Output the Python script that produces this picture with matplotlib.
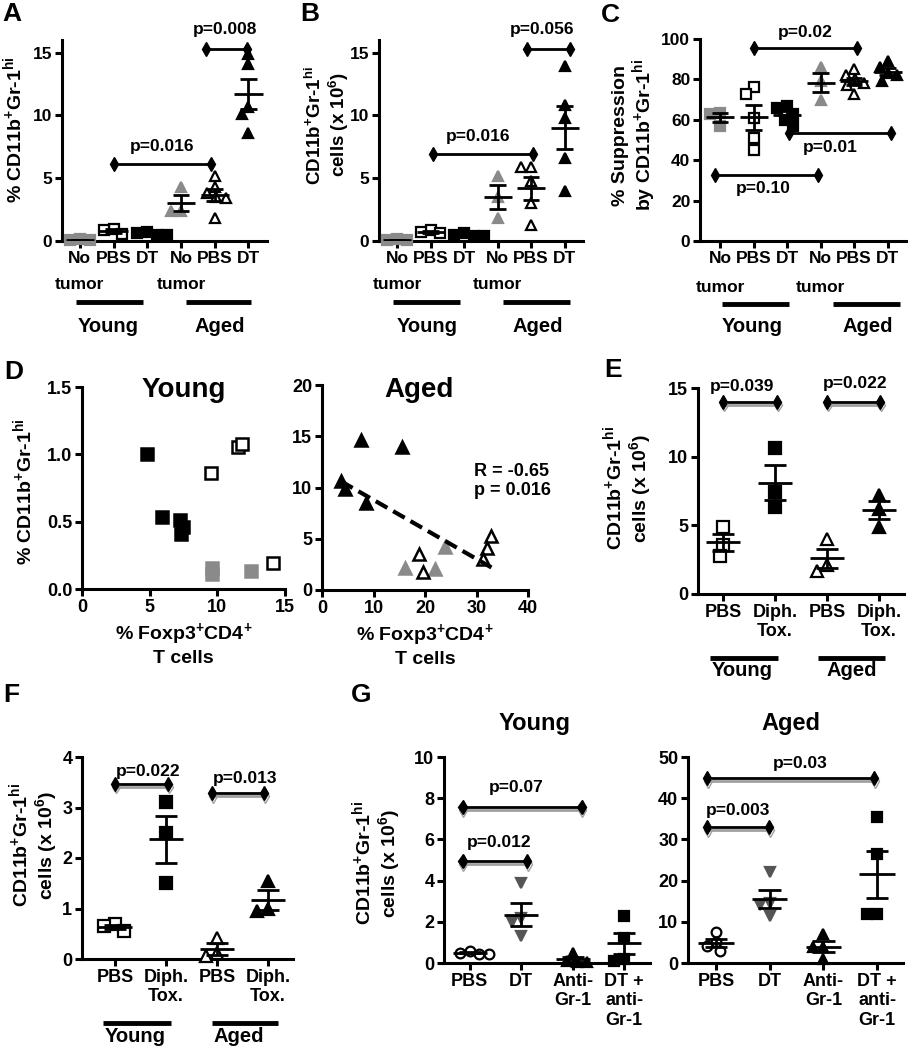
import numpy as np
import matplotlib
matplotlib.use("Agg")
import matplotlib.pyplot as plt
import matplotlib.transforms as mtransforms
import matplotlib.patheffects as pe

plt.rcParams['font.family'] = ['Liberation Sans', 'DejaVu Sans']
plt.rcParams['font.weight'] = 'bold'
plt.rcParams['axes.labelweight'] = 'bold'
plt.rcParams['mathtext.fontset'] = 'custom'
plt.rcParams['mathtext.rm'] = 'Liberation Sans:bold'
plt.rcParams['mathtext.bf'] = 'Liberation Sans:bold'
plt.rcParams['mathtext.it'] = 'Liberation Sans:bold'

# ---------------- DATA ----------------
ABC_labels = ["No", "PBS", "DT", "No", "PBS", "DT"]
ABC_second = ["tumor", "", "", "tumor", "", ""]
A_vals = [[0.12, 0.08, 0.05], [0.95, 0.9, 0.55], [0.75, 0.6, 0.5, 0.45],
          [4.3, 2.4, 2.4], [5.2, 4.3, 3.8, 3.5, 3.4, 1.8], [14.9, 14.1, 10.7, 10.1, 8.6]]
B_vals = [[0.12, 0.08, 0.05], [0.85, 0.7, 0.6], [0.65, 0.5, 0.4, 0.4],
          [5.2, 3.5, 1.8], [5.9, 5.9, 4.8, 3.0, 1.3], [13.9, 10.8, 9.8, 6.6, 4.0]]
C_vals = [[63.5, 63, 57], [76, 73, 61, 51, 45], [67, 66, 63, 60, 57],
          [86, 79, 70], [85, 82, 80, 78, 77, 73], [89, 86, 83, 82, 79]]

D_young_dt_x = [4.8, 5.9, 7.25, 7.45, 7.35]
D_young_dt_y = [1.0, 0.535, 0.51, 0.46, 0.41]
D_young_pbs_x = [11.5, 11.8, 9.5, 14.1]
D_young_pbs_y = [1.055, 1.08, 0.86, 0.19]
D_young_nt_x = [9.6, 9.6, 12.5]
D_young_nt_y = [0.155, 0.11, 0.135]
D_aged_dt_x = [3.7, 4.4, 7.5, 15.5, 8.5]
D_aged_dt_y = [10.6, 9.9, 14.6, 14.0, 8.5]
D_aged_pbs_x = [18.8, 19.7, 32.9, 32.1, 31.2]
D_aged_pbs_y = [3.5, 1.8, 5.3, 4.1, 3.0]
D_aged_nt_x = [16.2, 22.0, 23.8]
D_aged_nt_y = [2.1, 2.05, 4.2]
D_stats = "R = -0.65\np = 0.016"

EF_labels = ["PBS", "Diph.\nTox.", "PBS", "Diph.\nTox."]
E_vals = [[4.9, 3.6, 2.8], [10.6, 7.4, 6.3], [4.0, 2.1, 1.7], [7.2, 6.2, 4.9]]
F_vals = [[0.7, 0.65, 0.55], [3.1, 2.5, 1.5], [0.42, 0.12, 0.06], [1.55, 1.0, 0.95]]

G_labels = ["PBS", "DT", "Anti-\nGr-1", "DT +\nanti-\nGr-1"]
G_young = [[0.6, 0.5, 0.45, 0.45], [3.9, 2.2, 2.0, 1.3], [0.5, 0.1, 0.05, 0.05], [2.3, 1.2, 0.2, 0.1]]
G_aged = [[7.5, 5.0, 4.2, 2.8], [22.0, 14.5, 14.0, 11.5], [7.0, 4.0, 4.0, 1.0], [35.5, 26.5, 12.0, 12.0]]

# ---------------- LAYOUT HELPERS ----------------
W, H = 908, 1050
fig = plt.figure(figsize=(W / 100, H / 100), dpi=100)
GRAY = '#8a8a8a'
DGRAY = '#555555'

YL = r'% CD11b$^{+}$Gr-1$^{\mathrm{hi}}$'
YL2 = 'CD11b$^{+}$Gr-1$^{\\mathrm{hi}}$\ncells (x 10$^{6}$)'


def add_ax(x0, x1, y0, y1):
    ax = fig.add_axes([x0 / W, 1 - y1 / H, (x1 - x0) / W, (y1 - y0) / H])
    for s in ['top', 'right']:
        ax.spines[s].set_visible(False)
    for s in ['left', 'bottom']:
        ax.spines[s].set_linewidth(2.2)
    ax.tick_params(width=2.2, length=5, pad=2)
    return ax


def bold_ticks(ax, fs):
    ax.tick_params(labelsize=fs)
    for t in ax.get_xticklabels() + ax.get_yticklabels():
        t.set_fontweight('bold')


def swarm(ax, vals, d_px=10.0):
    vals = np.asarray(vals, float)
    y0, y1 = ax.get_ylim()
    x0, x1 = ax.get_xlim()
    ppy = ax.bbox.height / (y1 - y0)
    ppx = ax.bbox.width / (x1 - x0)
    ys = vals * ppy
    placed = []
    offs = np.zeros(len(vals))
    for i in np.argsort(-ys, kind='stable'):
        y = ys[i]
        cands = [0.0]
        for px_, py_ in placed:
            dy = abs(py_ - y)
            if dy < d_px:
                dx = np.sqrt(d_px ** 2 - dy ** 2)
                cands += [px_ + dx, px_ - dx]
        cands = sorted(cands, key=lambda c: (abs(c), c))
        chosen = cands[-1]
        for c in cands:
            if all((c - px_) ** 2 + (y - py_) ** 2 >= d_px ** 2 - 1e-6 for px_, py_ in placed):
                chosen = c
                break
        placed.append((chosen, y))
        offs[i] = chosen / ppx
    return offs


def dotplot(ax, data, markers, colors, filled, ms, mhw, chw, d_px=10.0):
    for i, vals in enumerate(data):
        offs = swarm(ax, vals, d_px)
        c = colors[i]
        ax.plot(i + offs, vals, ls='none', marker=markers[i], ms=ms,
                mfc=c if filled[i] else 'white', mec=c, mew=1.6, zorder=3, clip_on=False)
        m = np.mean(vals)
        se = np.std(vals, ddof=1) / np.sqrt(len(vals))
        ax.hlines(m, i - mhw, i + mhw, color='k', lw=2, zorder=4)
        ax.vlines(i, m - se, m + se, color='k', lw=2, zorder=4)
        ax.hlines([m - se, m + se], i - chw, i + chw, color='k', lw=2, zorder=4)


def pline(ax, x0, x1, y, text, tx, ty, shadow=False, fs=12.5):
    ln, = ax.plot([x0, x1], [y, y], color='k', lw=2, marker='d', ms=7, clip_on=False, zorder=5)
    if shadow:
        ln.set_path_effects([pe.SimpleLineShadow(offset=(0.6, -2.0), shadow_color='#a0a0a0', alpha=1.0),
                             pe.Normal()])
    ax.text(tx, ty, text, ha='center', va='center', fontsize=fs, clip_on=False)


def figy(ax):
    return mtransforms.blended_transform_factory(ax.transData, fig.transFigure)


def groupbar(ax, x0, x1, ypx, label, lx, lypx, fs=14.5):
    tr = figy(ax)
    ax.plot([x0, x1], [1 - ypx / H] * 2, transform=tr, color='k', lw=3.5,
            clip_on=False, solid_capstyle='butt')
    ax.text(lx, 1 - lypx / H, label, transform=tr, ha='center', va='center', fontsize=fs)


def second_row(ax, labels, ypx, fs=12.5):
    tr = figy(ax)
    for i, s in enumerate(labels):
        if s:
            ax.text(i, 1 - ypx / H, s, transform=tr, ha='center', va='center', fontsize=fs)


def letter(x, y, s):
    fig.text(x / W, 1 - y / H, s, fontsize=19, ha='left', va='center')


def ylab(x, y, s, fs=13.5):
    fig.text(x / W, 1 - y / H, s, rotation=90, ha='center', va='center', fontsize=fs,
             multialignment='center', linespacing=1.1)


mk6 = ['s', 's', 's', '^', '^', '^']
col6 = [GRAY, 'k', 'k', GRAY, 'k', 'k']
fil6 = [True, False, True, True, False, True]

# ---------------- PANEL A ----------------
axA = add_ax(62, 267, 40, 241)
axA.set_xlim(-0.53, 5.55)
axA.set_ylim(0, 16)
axA.set_yticks([0, 5, 10, 15])
axA.set_xticks(range(6))
axA.set_xticklabels(ABC_labels)
bold_ticks(axA, 12.5)
dotplot(axA, A_vals, mk6, col6, fil6, 6.5, 0.42, 0.25)
pline(axA, 1.0, 3.88, 6.15, "p=0.016", 2.45, 7.5)
pline(axA, 3.73, 4.97, 15.25, "p=0.008", 4.3, 16.8)
second_row(axA, ABC_second, 285)
groupbar(axA, -0.1, 1.88, 302, "Young", 0.85, 326)
groupbar(axA, 3.15, 5.07, 302, "Aged", 4.15, 326)
ylab(13, 130, YL, fs=14)
letter(2, 14, "A")

# ---------------- PANEL B ----------------
axB = add_ax(379, 583, 40, 241)
axB.set_xlim(-0.54, 5.55)
axB.set_ylim(0, 16)
axB.set_yticks([0, 5, 10, 15])
axB.set_xticks(range(6))
axB.set_xticklabels(ABC_labels)
bold_ticks(axB, 12.5)
dotplot(axB, B_vals, mk6, col6, fil6, 6.5, 0.42, 0.25)
pline(axB, 1.07, 4.06, 6.95, "p=0.016", 2.42, 8.3)
pline(axB, 3.88, 5.16, 15.25, "p=0.056", 4.33, 16.8)
second_row(axB, ABC_second, 285)
groupbar(axB, -0.12, 1.88, 302, "Young", 0.9, 326)
groupbar(axB, 3.16, 5.16, 302, "Aged", 4.2, 326)
ylab(328, 125, YL2, fs=13.5)
letter(300, 14, "B")

# ---------------- PANEL C ----------------
axC = add_ax(700, 907, 39, 241)
axC.set_xlim(-0.6, 5.58)
axC.set_ylim(0, 100)
axC.set_yticks(range(0, 101, 20))
axC.set_xticks(range(6))
axC.set_xticklabels(ABC_labels)
bold_ticks(axC, 12.5)
dotplot(axC, C_vals, mk6, col6, fil6, 6.5, 0.42, 0.25)
pline(axC, 1.01, 4.09, 95.5, "p=0.02", 2.54, 103)
pline(axC, 2.06, 5.1, 53.5, "p=0.01", 3.28, 46.5)
pline(axC, -0.15, 2.93, 32.5, "p=0.10", 1.28, 26)
second_row(axC, ABC_second, 287)
groupbar(axC, 0.06, 2.06, 304, "Young", 0.95, 326)
groupbar(axC, 3.37, 5.37, 304, "Aged", 4.4, 326)
ylab(635, 135, '% Suppression\nby CD11b$^{+}$Gr-1$^{\\mathrm{hi}}$', fs=14)
letter(601, 15, "C")

# ---------------- PANEL D ----------------
axD1 = add_ax(82, 285, 387, 589)
axD1.set_xlim(0, 15)
axD1.set_ylim(0, 1.5)
axD1.set_xticks([0, 5, 10, 15])
axD1.set_yticks([0, 0.5, 1.0, 1.5])
axD1.set_yticklabels(["0.0", "0.5", "1.0", "1.5"])
bold_ticks(axD1, 13)
axD1.plot(D_young_dt_x, D_young_dt_y, ls='none', marker='s', ms=8, mfc='k', mec='k', mew=1.8)
axD1.plot(D_young_pbs_x, D_young_pbs_y, ls='none', marker='s', ms=8, mfc='white', mec='k', mew=1.8)
axD1.plot(D_young_nt_x, D_young_nt_y, ls='none', marker='s', ms=8, mfc=GRAY, mec=GRAY, mew=1.8)
axD1.text(0.5, 0.985, "Young", transform=axD1.transAxes, ha='center', va='center', fontsize=20)
axD1.set_xlabel('% Foxp3$^{+}$CD4$^{+}$\nT cells', fontsize=14, labelpad=4, linespacing=1.2)
ylab(23, 492, YL, fs=14)
letter(4, 372, "D")

axD2 = add_ax(322, 528, 385, 590)
axD2.set_xlim(0, 40)
axD2.set_ylim(0, 20)
axD2.set_xticks([0, 10, 20, 30, 40])
axD2.set_yticks([0, 5, 10, 15, 20])
bold_ticks(axD2, 13)
axD2.plot(D_aged_dt_x, D_aged_dt_y, ls='none', marker='^', ms=8, mfc='k', mec='k', mew=1.8)
axD2.plot(D_aged_pbs_x, D_aged_pbs_y, ls='none', marker='^', ms=8, mfc='white', mec='k', mew=1.8, zorder=3)
axD2.plot(D_aged_nt_x, D_aged_nt_y, ls='none', marker='^', ms=8, mfc=GRAY, mec=GRAY, mew=1.8)
allx = np.array(D_aged_dt_x + D_aged_pbs_x + D_aged_nt_x)
ally = np.array(D_aged_dt_y + D_aged_pbs_y + D_aged_nt_y)
k, b = np.polyfit(allx, ally, 1)
xx = np.array([allx.min(), allx.max()])
axD2.plot(xx, k * xx + b, color='k', lw=3, ls=(0, (3.2, 1.6)), zorder=4)
axD2.text(0.47, 0.975, "Aged", transform=axD2.transAxes, ha='center', va='center', fontsize=20)
axD2.text(29.6, 10.6, D_stats, ha='left', va='center', fontsize=13, linespacing=1.15)
axD2.set_xlabel('% Foxp3$^{+}$CD4$^{+}$\nT cells', fontsize=14, labelpad=4, linespacing=1.2)

# ---------------- PANEL E ----------------
mk4 = ['s', 's', '^', '^']
col4 = ['k', 'k', 'k', 'k']
fil4 = [False, True, False, True]
axE = add_ax(698, 904, 388, 594)
axE.set_xlim(-0.48, 3.48)
axE.set_ylim(0, 15)
axE.set_yticks([0, 5, 10, 15])
axE.set_xticks(range(4))
axE.set_xticklabels(EF_labels, linespacing=1.2)
bold_ticks(axE, 13)
dotplot(axE, E_vals, mk4, col4, fil4, 8, 0.33, 0.21, d_px=11.5)
pline(axE, 0.0, 1.04, 14.0, "p=0.039", 0.37, 15.1, shadow=True)
pline(axE, 2.0, 3.02, 14.0, "p=0.022", 2.54, 15.3, shadow=True)
groupbar(axE, -0.25, 1.06, 658, "Young", 0.37, 671)
groupbar(axE, 1.83, 3.12, 658, "Aged", 2.48, 671)
ylab(627, 488, YL2, fs=14)
letter(604, 370, "E")

# ---------------- PANEL F ----------------
axF = add_ax(82, 293, 757, 959)
axF.set_xlim(-0.65, 3.49)
axF.set_ylim(0, 4)
axF.set_yticks([0, 1, 2, 3, 4])
axF.set_xticks(range(4))
axF.set_xticklabels(EF_labels, linespacing=1.2)
bold_ticks(axF, 13)
dotplot(axF, F_vals, mk4, col4, fil4, 8, 0.33, 0.21, d_px=11.5)
pline(axF, 0.0, 1.04, 3.47, "p=0.022", 0.65, 3.72, shadow=True)
pline(axF, 1.9, 2.92, 3.29, "p=0.013", 2.55, 3.57, shadow=True)
groupbar(axF, -0.24, 1.1, 1023, "Young", 0.39, 1037)
groupbar(axF, 1.9, 3.2, 1023, "Aged", 2.43, 1037)
ylab(33, 845, YL2, fs=14)
letter(3, 695, "F")

# ---------------- PANEL G ----------------
mkG = ['o', 'v', '^', 's']
colG = ['k', DGRAY, 'k', 'k']
filG = [False, True, True, True]
axG1 = add_ax(444, 650, 757, 963)
axG1.set_xlim(-0.5, 3.5)
axG1.set_ylim(0, 10)
axG1.set_yticks(range(0, 11, 2))
axG1.set_xticks(range(4))
axG1.set_xticklabels(G_labels, linespacing=1.2)
bold_ticks(axG1, 13)
dotplot(axG1, G_young, mkG, colG, filG, 7, 0.33, 0.21, d_px=10.0)
pline(axG1, -0.14, 2.17, 7.57, "p=0.07", 0.91, 8.5, shadow=True)
pline(axG1, -0.14, 1.11, 4.95, "p=0.012", 0.58, 5.87, shadow=True)
axG1.text(0.44, 1.165, "Young", transform=axG1.transAxes, ha='center', va='center', fontsize=17)
ylab(376, 863, YL2, fs=14)
letter(351, 695, "G")

axG2 = add_ax(688, 903, 757, 963)
axG2.set_xlim(-0.52, 3.48)
axG2.set_ylim(0, 50)
axG2.set_yticks(range(0, 51, 10))
axG2.set_xticks(range(4))
axG2.set_xticklabels(G_labels, linespacing=1.2)
bold_ticks(axG2, 13)
dotplot(axG2, G_aged, mkG, colG, filG, 7, 0.33, 0.21, d_px=10.0)
pline(axG2, -0.17, 2.94, 44.9, "p=0.03", 1.56, 48.5, shadow=True)
pline(axG2, -0.17, 0.99, 33.0, "p=0.003", 0.41, 37.1, shadow=True)
axG2.text(0.48, 1.165, "Aged", transform=axG2.transAxes, ha='center', va='center', fontsize=17)

fig.savefig("out.png", dpi=100)
